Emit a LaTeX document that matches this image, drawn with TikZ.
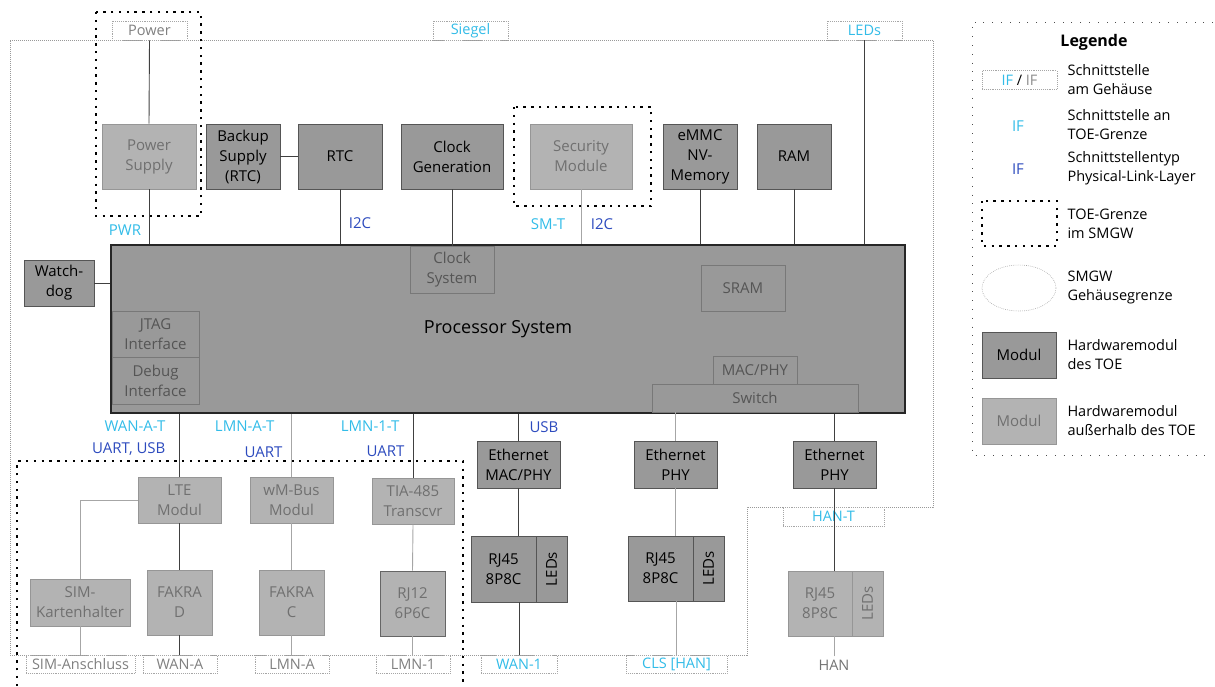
\documentclass[tikz,border=0pt]{standalone}
\usepackage{fontspec}
\setmainfont{Open Sans}
\definecolor{modfill}{RGB}{153, 153, 153}
\definecolor{modline}{RGB}{85, 85, 85}
\definecolor{extfill}{RGB}{179, 179, 179}
\definecolor{extline}{RGB}{150, 150, 150}
\definecolor{exttext}{RGB}{112, 112, 112}
\definecolor{subline}{RGB}{120, 120, 120}
\definecolor{subtext}{RGB}{85, 85, 85}
\definecolor{ifcyan}{RGB}{50, 188, 232}
\definecolor{typblue}{RGB}{45, 75, 190}
\usetikzlibrary{shapes.geometric, positioning, calc}

\begin{document}
\begin{tikzpicture}[x=1pt, y=-1pt, font=\fontsize{15}{20}\selectfont,
  mod/.style={draw=modline, fill=modfill, line width=0.9pt, inner sep=0pt, align=center},
  ext/.style={draw=extline, fill=extfill, text=exttext, line width=0.9pt, inner sep=0pt, align=center},
  sub/.style={draw=subline, line width=0.9pt, text=subtext, inner sep=0pt, align=center},
  iface/.style={draw=black!35, dash pattern=on 0.7pt off 1.2pt, line width=0.6pt, fill=white, inner sep=0pt,
    minimum width=75pt, minimum height=19pt, font=\fontsize{14.5}{17}\selectfont},
  housing/.style={draw=black!40, dash pattern=on 0.7pt off 1.3pt, line width=0.6pt},
  toe/.style={line width=2.4pt, dash pattern=on 2.4pt off 5.4pt},
  wire/.style={draw=black!75, line width=0.9pt},
  wirel/.style={draw=black!35, line width=0.9pt},
  tl/.style={text=ifcyan},
  pl/.style={text=typblue},
  desc/.style={anchor=west, align=left, font=\fontsize{14.5}{19}\selectfont}]
  \useasboundingbox (0,0) rectangle (1215,686);

  % Gehaeuse
  \draw[housing] (10,40) -- (933,40) -- (933,507) -- (747,507) -- (747,655) -- (10,655) -- cycle;

  % TOE-Grenzen
  \draw[toe] (96,12) rectangle (201,216);
  \draw[toe] (514,107) rectangle (651,206);
  \draw[toe] (17,686) -- (17,461) -- (463,461) -- (463,686);

  % Schnittstellen oben
  \node[iface, text=black!50] (pwrif) at (149.5,30.5) {Power};
  \node[iface, tl] (siegelif) at (470.5,30.5) {Siegel};
  \node[iface, tl] (ledsif) at (864.5,30.5) {LEDs};

  % Module oben
  \node[ext, minimum width=94pt, minimum height=65pt] (psu) at (149,156.5) {Power\\Supply};
  \node[mod, minimum width=74pt, minimum height=65pt] (bkup) at (243,156.5) {Backup\\Supply\\(RTC)};
  \node[mod, minimum width=84pt, minimum height=65pt] (rtc) at (340,156.5) {RTC};
  \node[mod, minimum width=102pt, minimum height=65pt] (clkgen) at (452,156.5) {Clock\\Generation};
  \node[ext, minimum width=102pt, minimum height=65pt] (secmod) at (581,156.5) {Security\\Module};
  \node[mod, minimum width=74pt, minimum height=65pt] (emmc) at (700,156.5) {eMMC\\NV-\\Memory};
  \node[mod, minimum width=74pt, minimum height=65pt] (ram) at (794,156.5) {RAM};

  % Processor
  \node[mod, draw=black!85, line width=1.3pt, minimum width=794pt, minimum height=168pt] (proc) at (508,329) {};
  \node[font=\fontsize{18}{22}\selectfont] (proctext) at (498,329) {Processor System};
  \node[sub, minimum width=84pt, minimum height=47pt] (clksys) at (452,269.5) {Clock\\System};
  \node[sub, minimum width=84pt, minimum height=46pt] (sram) at (743,288) {SRAM};
  \node[sub, minimum width=87pt, minimum height=46pt] (jtag) at (155.5,334) {JTAG\\Interface};
  \node[sub, minimum width=87pt, minimum height=47pt] (debug) at (155.5,380.5) {Debug\\Interface};
  \node[sub, minimum width=84pt, minimum height=28pt] (macphy) at (755,370) {MAC/PHY};
  \node[sub, minimum width=206pt, minimum height=28pt] (switch) at (755,398) {Switch};
  \node[mod, minimum width=70pt, minimum height=46pt] (wdog) at (59,283) {Watch-\\dog};

  % Verbindungen oben
  \draw[wire] (pwrif.south) -- (psu.north);
  \draw[wire] (psu.south) -- (psu.south |- proc.north);
  \draw[wire] (bkup.east) -- (rtc.west);
  \draw[wire] (rtc.south) -- (rtc.south |- proc.north);
  \draw[wire] (clkgen.south) -- (clksys.north);
  \draw[wirel] (secmod.south) -- (secmod.south |- proc.north);
  \draw[wire] (emmc.south) -- (emmc.south |- proc.north);
  \draw[wire] (ram.south) -- (ram.south |- proc.north);
  \draw[wire] (ledsif.south) -- (ledsif.south |- proc.north);
  \draw[wire] (wdog.east) -- (wdog.east -| proc.west);

  \node[tl] (pwrl) at (125,230) {PWR};
  \node[pl] (rtci2c) at (360,223) {I2C};
  \node[tl] (smt) at (548,224) {SM-T};
  \node[pl] (smi2c) at (602,224) {I2C};

  % WAN / LMN
  \node[ext, minimum width=83pt, minimum height=46pt] (lte) at (179.5,500) {LTE\\Modul};
  \node[ext, minimum width=83pt, minimum height=46pt] (wmbus) at (291.5,500) {wM-Bus\\Modul};
  \node[ext, minimum width=82pt, minimum height=46pt] (tia) at (413,501) {TIA-485\\Transcvr};
  \node[ext, minimum width=100pt, minimum height=47pt] (sim) at (80,602.5) {SIM-\\Kartenhalter};
  \node[ext, minimum width=65pt, minimum height=65pt] (fakrad) at (179.5,602.5) {FAKRA\\D};
  \node[ext, minimum width=65pt, minimum height=65pt] (fakrac) at (291.5,602.5) {FAKRA\\C};
  \node[ext, draw=black!60, minimum width=65pt, minimum height=65pt] (rj12) at (412.5,603.5) {RJ12\\6P6C};

  \node[iface, text=black!50, minimum width=109pt, minimum height=18pt] (simif) at (80.5,664.5) {SIM-Anschluss};
  \node[iface, text=black!50, minimum width=74pt, minimum height=18pt] (wanaif) at (180,664.5) {WAN-A};
  \node[iface, text=black!50, minimum width=74pt, minimum height=18pt] (lmnaif) at (292,664.5) {LMN-A};
  \node[iface, text=black!50, minimum width=74pt, minimum height=18pt] (lmn1if) at (413,664.5) {LMN-1};

  \draw[wire] (lte.north) -- (lte.north |- proc.south);
  \draw[wirel] (wmbus.north) -- (wmbus.north |- proc.south);
  \draw[wire] (tia.north) -- (tia.north |- proc.south);
  \draw[wirel] (lte.west) -| (sim.north);
  \draw[wire] (lte.south) -- (fakrad.north);
  \draw[wirel] (wmbus.south) -- (fakrac.north);
  \draw[wirel] (tia.south) -- (rj12.north);
  \draw[wirel] (sim.south) -- (sim.south |- simif.north);
  \draw[wire] (fakrad.south) -- (fakrad.south |- wanaif.north);
  \draw[wirel] (fakrac.south) -- (fakrac.south |- lmnaif.north);
  \draw[wirel] (rj12.south) -- (rj12.south |- lmn1if.north);

  \node[tl, anchor=east] (wanat) at (169,426) {WAN-A-T};
  \node[pl, anchor=east] (wanatyp) at (169,449) {UART, USB};
  \node[tl, anchor=east] (lmnat) at (278,426) {LMN-A-T};
  \node[pl, anchor=east] (lmnatyp) at (286,452) {UART};
  \node[tl, anchor=east] (lmn1t) at (403,426) {LMN-1-T};
  \node[pl, anchor=east] (lmn1typ) at (408,451) {UART};

  % Ethernet
  \node[mod, minimum width=83pt, minimum height=47pt] (ethmac) at (518.5,464.5) {Ethernet\\MAC/PHY};
  \node[mod, minimum width=83pt, minimum height=47pt] (ethphya) at (675.5,464.5) {Ethernet\\PHY};
  \node[mod, minimum width=83pt, minimum height=47pt] (ethphyb) at (834.5,464.5) {Ethernet\\PHY};
  \node[mod, minimum width=65pt, minimum height=66pt] (rjwan) at (503.5,569) {RJ45\\8P8C};
  \node[mod, minimum width=31pt, minimum height=66pt] (ledwan) at (551.5,569) {\rotatebox{90}{LEDs}};
  \node[mod, minimum width=65pt, minimum height=65pt] (rjcls) at (660.5,568.5) {RJ45\\8P8C};
  \node[mod, minimum width=31pt, minimum height=65pt] (ledcls) at (708.5,568.5) {\rotatebox{90}{LEDs}};
  \node[ext, minimum width=64pt, minimum height=65pt] (rjhan) at (820,603.5) {RJ45\\8P8C};
  \node[ext, minimum width=31pt, minimum height=65pt] (ledhan) at (867.5,603.5) {\rotatebox{90}{LEDs}};

  \node[iface, tl, minimum width=76pt, minimum height=18pt] (wan1if) at (519,664.5) {WAN-1};
  \node[iface, tl, minimum width=101pt, minimum height=18pt] (clsif) at (676.5,664.5) {CLS [HAN]};
  \node[iface, tl, minimum width=101pt, minimum height=19pt] (hantif) at (833.5,516.5) {HAN-T};
  \node[text=black!55, font=\fontsize{14.5}{17}\selectfont] (hanl) at (834,665) {HAN};

  \draw[wire] (ethmac.north) -- (ethmac.north |- proc.south);
  \draw[wirel] (ethphya.north) -- (ethphya.north |- switch.south);
  \draw[wire] (ethphyb.north) -- (ethphyb.north |- proc.south);
  \draw[wire] (ethmac.south) -- (ethmac.south |- rjwan.north);
  \draw[wire] (wan1if.north) -- (wan1if.north |- rjwan.south);
  \draw[wirel] (ethphya.south) -- (ethphya.south |- rjcls.north);
  \draw[wirel] (clsif.north) -- (clsif.north |- rjcls.south);
  \draw[wire] (ethphyb.south) -- (ethphyb.south |- rjhan.north);
  \draw[wirel] (hanl.north) -- (hanl.north |- rjhan.south);

  \node[pl] (usbl) at (544,427) {USB};

  % Legende
  \draw[black!70, line width=0.8pt, dash pattern=on 0.8pt off 8pt] (1213,22) -- (972,22) -- (972,455) -- (1213,455);
  \node[font=\bfseries\fontsize{16}{19}\selectfont] (legtitle) at (1094,42) {Legende};
  \node[iface] (legif) at (1019.5,80) {\textcolor{ifcyan}{IF} / \textcolor{black!45}{IF}};
  \node[desc] (legifd) at (1064,80) {Schnittstelle\\am Gehäuse};
  \node[tl] (legtoe) at (1018,126) {IF};
  \node[desc] (legtoed) at (1064,125) {Schnittstelle an\\TOE-Grenze};
  \node[pl] (legtyp) at (1018,169) {IF};
  \node[desc] (legtypd) at (1064,168) {Schnittstellentyp\\Physical-Link-Layer};
  \draw[toe] (982,201) rectangle (1057,246);
  \node[desc] (leggrd) at (1064,224) {TOE-Grenze\\im SMGW};
  \node[ellipse, draw=black!35, dash pattern=on 0.7pt off 1.2pt, line width=0.6pt, minimum width=74pt, minimum height=46pt] (legell) at (1019,288) {};
  \node[desc] (legelld) at (1064,287) {SMGW\\Gehäusegrenze};
  \node[mod, minimum width=74pt, minimum height=46pt] (legmod) at (1019,355) {Modul};
  \node[desc] (legmodd) at (1064,355) {Hardwaremodul\\des TOE};
  \node[ext, minimum width=74pt, minimum height=46pt] (legext) at (1019,421) {Modul};
  \node[desc] (legextd) at (1064,421) {Hardwaremodul\\außerhalb des TOE};
\end{tikzpicture}
\end{document}
